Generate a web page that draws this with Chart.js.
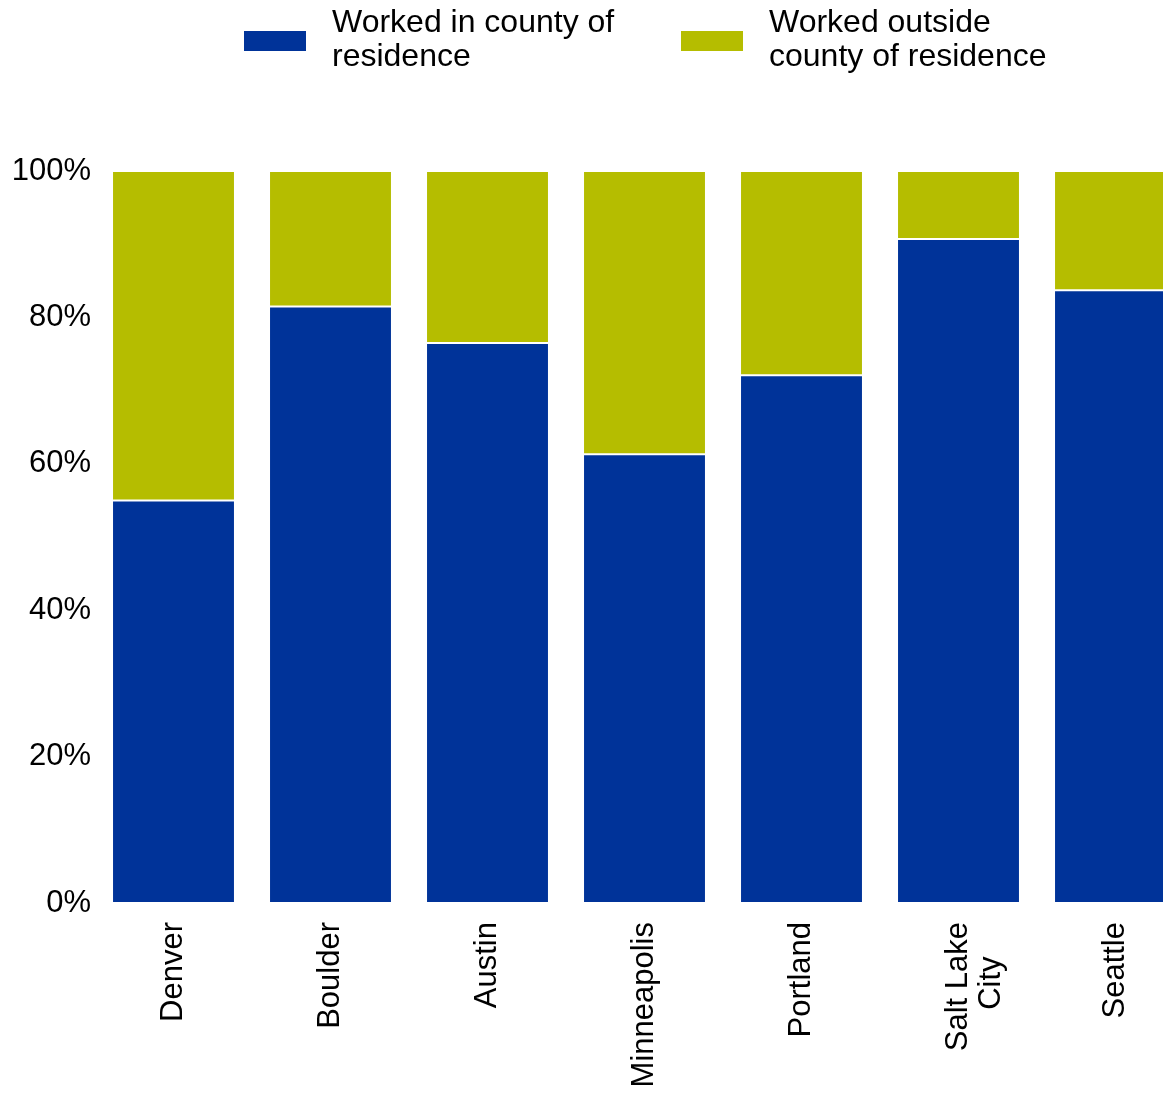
<!DOCTYPE html>
<html>
<head>
<meta charset="utf-8">
<title>Where commuters worked</title>
<script src="https://cdn.jsdelivr.net/npm/chart.js@4.4.1/dist/chart.umd.min.js"></script>
<style>
    html, body { margin: 0; padding: 0; background: #fff; overflow: hidden; }
    #wrap { position: relative; width: 1163px; height: 1097px; overflow: hidden; }
    #commuteChart { position: absolute; left: 0; top: 0; }
    #legend { position: absolute; left: 0; top: 0; font-family: "Liberation Sans", Arial, sans-serif; font-size: 32px; line-height: 34px; color: #000; }
    .legend-item { position: absolute; top: 4px; }
    .legend-box { position: absolute; left: 0; top: 27px; width: 62px; height: 20px; }
    .legend-text { position: absolute; left: 88px; top: 0; white-space: nowrap; }
</style>
</head>
<body>
<div id="wrap">
    <canvas id="commuteChart" width="1200" height="1097"></canvas>
    <div id="legend"></div>
</div>
<script>
const cities = ['Denver', 'Boulder', 'Austin', 'Minneapolis', 'Portland', ['Salt Lake', 'City    '], 'Seattle'];
const inCounty = [55.0, 81.5, 76.5, 61.3, 72.1, 90.7, 83.7];
const outsideCounty = [45.0, 18.5, 23.5, 38.7, 27.9, 9.3, 16.3];
const yTicks = [0, 20, 40, 60, 80, 100];
const seriesNames = [['Worked in county of', 'residence'], ['Worked outside', 'county of residence']];
const seriesColors = ['#003399', '#b5bd00'];

const font = { family: '"Liberation Sans", Arial, sans-serif', size: 31 };

const data = {
    labels: cities,
    datasets: [inCounty, outsideCounty].map((values, i) => ({
        label: seriesNames[i],
        data: values,
        backgroundColor: seriesColors[i],
        borderColor: '#ffffff',
        borderWidth: 1,
        borderSkipped: false,
        barPercentage: 0.783,
        categoryPercentage: 1
    }))
};

const config = {
    type: 'bar',
    data: data,
    options: {
        responsive: false,
        animation: false,
        devicePixelRatio: 1,
        layout: { padding: { top: 171, right: 6, bottom: 0, left: 0 } },
        plugins: {
            legend: { display: false },
            tooltip: { enabled: false }
        },
        scales: {
            x: {
                stacked: true,
                grid: { display: false, drawTicks: false },
                border: { display: false },
                ticks: {
                    autoSkip: false,
                    minRotation: 90,
                    maxRotation: 90,
                    padding: 19,
                    color: '#000',
                    font: { ...font, lineHeight: 1.07 }
                },
                afterFit: scale => { scale.height = 194; }
            },
            y: {
                stacked: true,
                min: 0,
                max: 100,
                grid: { display: false, drawTicks: false },
                border: { display: false },
                afterBuildTicks: scale => { scale.ticks = yTicks.map(v => ({ value: v })); },
                ticks: {
                    padding: 4,
                    color: '#000',
                    font: font,
                    callback: v => v + '%'
                },
                afterFit: scale => { scale.width = 95; }
            }
        }
    }
};

const myChart = new Chart(document.getElementById('commuteChart'), config);

// html legend, built from the chart's own legend items
const legendLefts = [244, 681];
const legendEl = document.getElementById('legend');
myChart.options.plugins.legend.labels.generateLabels(myChart).forEach((item, i) => {
    const row = document.createElement('div');
    row.className = 'legend-item';
    row.style.left = legendLefts[i] + 'px';
    const box = document.createElement('span');
    box.className = 'legend-box';
    box.style.background = item.fillStyle;
    const text = document.createElement('span');
    text.className = 'legend-text';
    [].concat(item.text).forEach((line, j) => {
        if (j > 0) text.appendChild(document.createElement('br'));
        text.appendChild(document.createTextNode(line));
    });
    row.appendChild(box);
    row.appendChild(text);
    legendEl.appendChild(row);
});
</script>
</body>
</html>
